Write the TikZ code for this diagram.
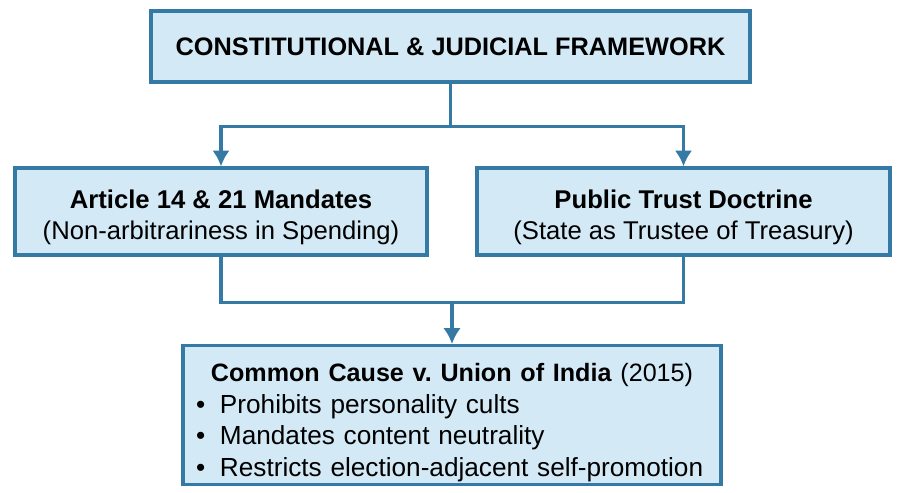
\documentclass[tikz,border=0pt]{standalone}
\usepackage{fontspec}
\setmainfont{Liberation Sans}
\usetikzlibrary{calc,arrows.meta}
\definecolor{boxline}{RGB}{52,122,164}
\definecolor{boxfill}{RGB}{211,233,246}
\tikzset{
  frame/.style={draw=boxline,fill=boxfill,line width=1.9pt,rectangle,inner sep=0pt,align=center},
  link/.style={draw=boxline,line width=1.9pt},
  arr/.style={link,-{Latex[length=9pt,width=10pt]}}
}
\frenchspacing
\begin{document}
\begin{tikzpicture}
              \useasboundingbox (0,0) rectangle (18.04,9.84);
              \node[frame,minimum width=11.98cm,minimum height=1.42cm,font=\fontsize{14.4}{17}\selectfont\bfseries](top)at(9.01,8.91){CONSTITUTIONAL \& JUDICIAL FRAMEWORK};
              \node[frame,minimum width=8.24cm,minimum height=1.74cm,font=\fontsize{14.6}{17.8}\selectfont](art)at(4.42,5.61){\rule{0pt}{17pt}\textbf{Article 14 \& 21 Mandates}\\(Non-arbitrariness in Spending)};
              \node[frame,minimum width=8.26cm,minimum height=1.74cm,font=\fontsize{14.6}{17.8}\selectfont](ptd)at(13.67,5.61){\rule{0pt}{17pt}\textbf{Public Trust Doctrine}\\(State as Trustee of Treasury)};
              \node[frame,anchor=north,inner xsep=0.26cm,text width=10.24cm,align=left,font=\fontsize{14.9}{18}\selectfont](cc)at(9.04,2.96){\makebox[\linewidth][c]{\rule{0pt}{20.5pt}\fontsize{14.3}{18}\selectfont\textbf{Common Cause v. Union of India} (2015)}\\\makebox[0.48cm][l]{•}Prohibits personality cults\\\makebox[0.48cm][l]{•}Mandates content neutrality\\\makebox[0.48cm][l]{•}Restricts election-adjacent self-promotion\rule[-4.6pt]{0pt}{4.6pt}};
              \coordinate(split)at($(top.south)+(0,-0.86)$);
              \coordinate(join)at($(cc.north|-art.south)+(0,-0.92)$);
              \draw[link](top.south)--(split);
              \draw[arr](split)-|(art.north);
              \draw[arr](split)-|(ptd.north);
              \draw[link](art.south)|-(join);
              \draw[link](ptd.south)|-(join);
              \draw[arr](join)--(cc.north);
            \end{tikzpicture}
\end{document}
